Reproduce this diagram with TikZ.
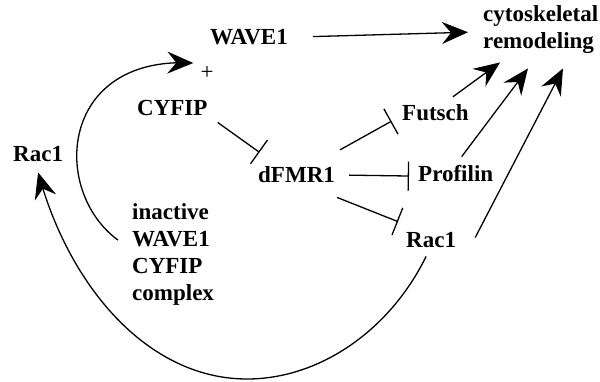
\documentclass[tikz,border=0pt]{standalone}
\usepackage{fontspec}
\setmainfont{Liberation Serif}
\usetikzlibrary{arrows.meta,bending}
\tikzset{
  lbl/.style={inner sep=0pt, font=\bfseries\fontsize{23}{27}\selectfont},
  blk/.style={lbl, align=left},
  act/.style={line width=1.3pt, -{Stealth[length=26pt,width=22pt,inset=9pt]}},
  inh/.style={line width=1.3pt, -{Bar[width=29pt]}},
}
\begin{document}
\begin{tikzpicture}[x=1pt,y=-1pt]
\useasboundingbox (0,0) rectangle (600,381);

% labels
\node[lbl, anchor=base west] (wave1) at (210,44) {WAVE1};
\node[inner sep=0pt, font=\fontsize{23}{27}\selectfont] (plus) at (207,73) {+};
\node[lbl, anchor=base west] (cyfip) at (137,115) {CYFIP};
\node[lbl, anchor=base west] (rac1L) at (13,161) {Rac1};
\node[lbl, anchor=base west] (dfmr) at (258,182) {dFMR1};
\node[lbl, anchor=base west] (futsch) at (402,120) {Futsch};
\node[lbl, anchor=base west] (profilin) at (418,181) {Profilin};
\node[lbl, anchor=base west] (rac1R) at (406,247) {Rac1};
\node[blk, anchor=north west] (complex) at (132,203) {inactive\\WAVE1\\CYFIP\\complex};
\node[blk, anchor=north west] (cyto) at (483,5) {cytoskeletal\\remodeling};

% activation arrows
\draw[act] ([shift={(25,0)}]wave1.east) -- ([shift={(-15,3)}]cyto.west);
\draw[act] ([shift={(-16,-7)}]futsch.north east) -- ([shift={(17,9)}]cyto.south west);
\draw[act] ([shift={(6,-8)}]profilin.north) -- ([shift={(45,15)}]cyto.south west);
\draw[act] ([shift={(19,-2)}]rac1R.east) -- ([shift={(80,15)}]cyto.south west);

% inhibition
\draw[inh] ([shift={(10,7)}]cyfip.south east) -- ([shift={(1.5,-13.5)}]dfmr.north west);
\draw[inh] ([shift={(5,-16)}]dfmr.north east) -- ([shift={(-10.5,9)}]futsch.west);
\draw[inh] ([shift={(14,1)}]dfmr.east) -- ([shift={(-9,3)}]profilin.west);
\draw[inh] ([shift={(2,15)}]dfmr.south east) -- ([shift={(-8,-10)}]rac1R.north west);

% feedback loops
\draw[act] ([shift={(-14,-14)}]complex.west) .. controls (50,190) and (60,55) .. ([shift={(-7,-10)}]plus.west);
\draw[act] ([shift={(-5,9)}]rac1R.south) .. controls (390,330) and (320,379) .. (247,379)
  .. controls (150,379) and (70,290) .. ([shift={(0,11)}]rac1L.south);
\end{tikzpicture}
\end{document}
